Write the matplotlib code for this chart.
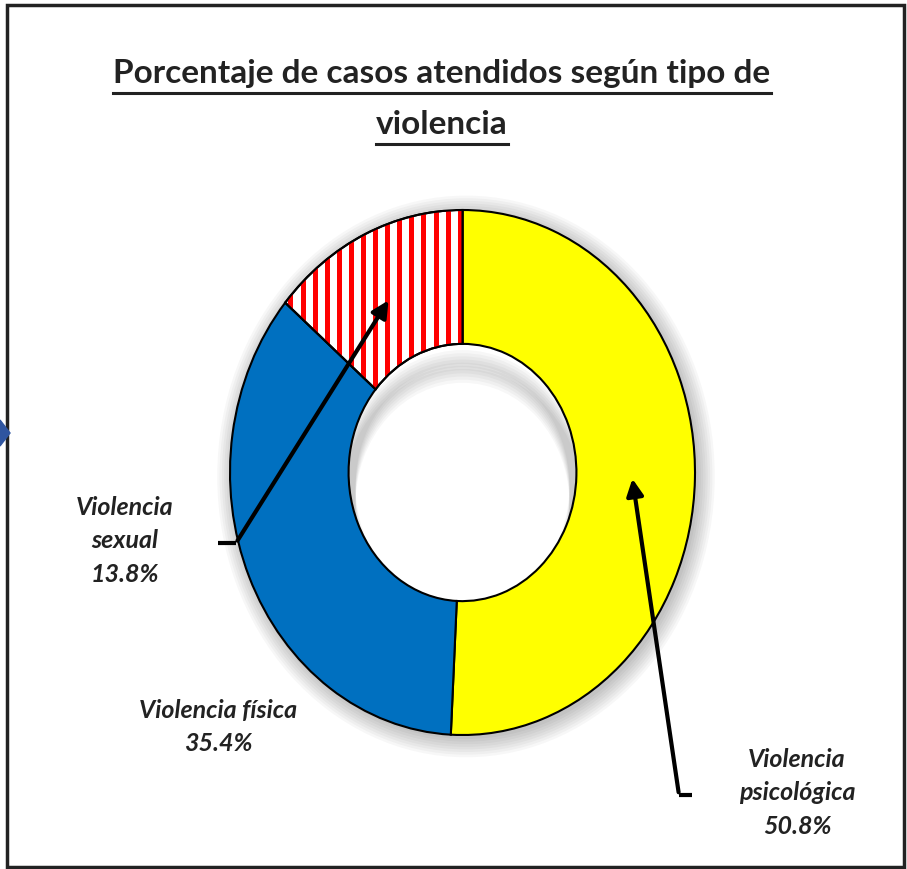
import numpy as np
import matplotlib
matplotlib.use("Agg")
import matplotlib.pyplot as plt
from matplotlib.patches import Ellipse, Rectangle, Polygon, Wedge

# data
labels = ["Violencia\npsicológica", "Violencia física", "Violencia\nsexual"]
values = [50.8, 35.4, 13.8]
colors = ["#FFFF00", "#0070C0", "#FFFFFF"]
title_lines = ["Porcentaje de casos atendidos según tipo de", "violencia"]

W, H = 907, 869
fig = plt.figure(figsize=(W / 100, H / 100), dpi=100)
fig.patch.set_facecolor("white")

# overlay in pixel coords (y down)
ov = fig.add_axes([0, 0, 1, 1])
ov.set_xlim(0, W)
ov.set_ylim(H, 0)
ov.axis("off")
ov.set_zorder(3)

# frame
ov.add_patch(Rectangle((7, 5), 897, 862, fill=False, edgecolor="#222222", lw=2.5))
ov.add_patch(Polygon([[0, 420], [10, 433], [0, 446]], closed=True, color="#2f55a0"))

# donut axes (slightly taller than wide, like the original)
ax = fig.add_axes([230 / W, (H - 735) / H, 465 / W, 525 / H])
ax.set_xlim(-1, 1)
ax.set_ylim(-1, 1)
ax.axis("off")

# soft outer shadow
for k in range(8):
    ax.add_patch(Ellipse((0.015, -0.015), 2 + 0.02 * k, 2 + 0.02 * k,
                         color="black", alpha=0.03, lw=0, zorder=0, clip_on=False))

wedges, _ = ax.pie(values, colors=colors, startangle=90, counterclock=False,
                   radius=1, wedgeprops=dict(width=0.51, edgecolor="black", linewidth=1.5),
                   frame=False)
ax.set_aspect("auto")
ax.set_xlim(-1, 1)
ax.set_ylim(-1, 1)

# white hole with a faint inner shadow at the top
hole = Ellipse((0, 0), 0.98, 0.98, facecolor="white", lw=0, zorder=0.5)
ax.add_patch(hole)
for k in range(7):
    sh = Ellipse((0, -0.05 - 0.012 * k), 0.98, 0.98, fill=False,
                 edgecolor="black", alpha=0.03, lw=10, zorder=0.6)
    ax.add_patch(sh)
    sh.set_clip_path(hole)

# red vertical stripes on the sexual violence wedge
sx = wedges[2]
stripes = ax.vlines(np.arange(-1, 1, 0.052), -1, 1, colors="#FF0000", linewidth=3.6, zorder=2)
stripes.set_clip_path(sx)
sx.set_zorder(1)
ax.add_patch(Wedge(sx.center, sx.r, sx.theta1, sx.theta2, width=sx.width,
                   fill=False, edgecolor="black", lw=1.5, zorder=3))

# title with underline
tfont = dict(family="Lato", weight="bold", size=24, color="#222222")
t1 = ov.text(442, 74, title_lines[0], ha="center", va="center", **tfont)
t2 = ov.text(442, 125, title_lines[1], ha="center", va="center", **tfont)
fig.canvas.draw()
r = fig.canvas.get_renderer()
for t, yu in [(t1, 93), (t2, 144)]:
    bb = t.get_window_extent(r)
    ov.plot([bb.x0, bb.x1], [yu, yu], color="#222222", lw=2.2)

# labels
lfont = dict(family="Lato", weight="bold", style="italic", size=18, color="#222222",
             ha="center", va="center", linespacing=1.55)
ov.text(125, 541, labels[2] + "\n%.1f%%" % values[2], **lfont)
ov.text(218, 727, labels[1] + "\n%.1f%%" % values[1], **lfont)
ov.text(797, 793, labels[0] + "\n%.1f%%" % values[0], **lfont)

# arrows
ov.plot([218, 236], [543, 543], color="black", lw=3, solid_capstyle="butt")
ov.annotate("", xy=(390, 298), xytext=(236, 543),
            arrowprops=dict(arrowstyle="-|>,head_length=1.0,head_width=0.5", color="black", lw=3))
ov.plot([692, 679], [795, 795], color="black", lw=3, solid_capstyle="butt")
ov.annotate("", xy=(632, 476), xytext=(679, 795),
            arrowprops=dict(arrowstyle="-|>,head_length=1.0,head_width=0.5", color="black", lw=3))

fig.savefig("out.png", dpi=100)
